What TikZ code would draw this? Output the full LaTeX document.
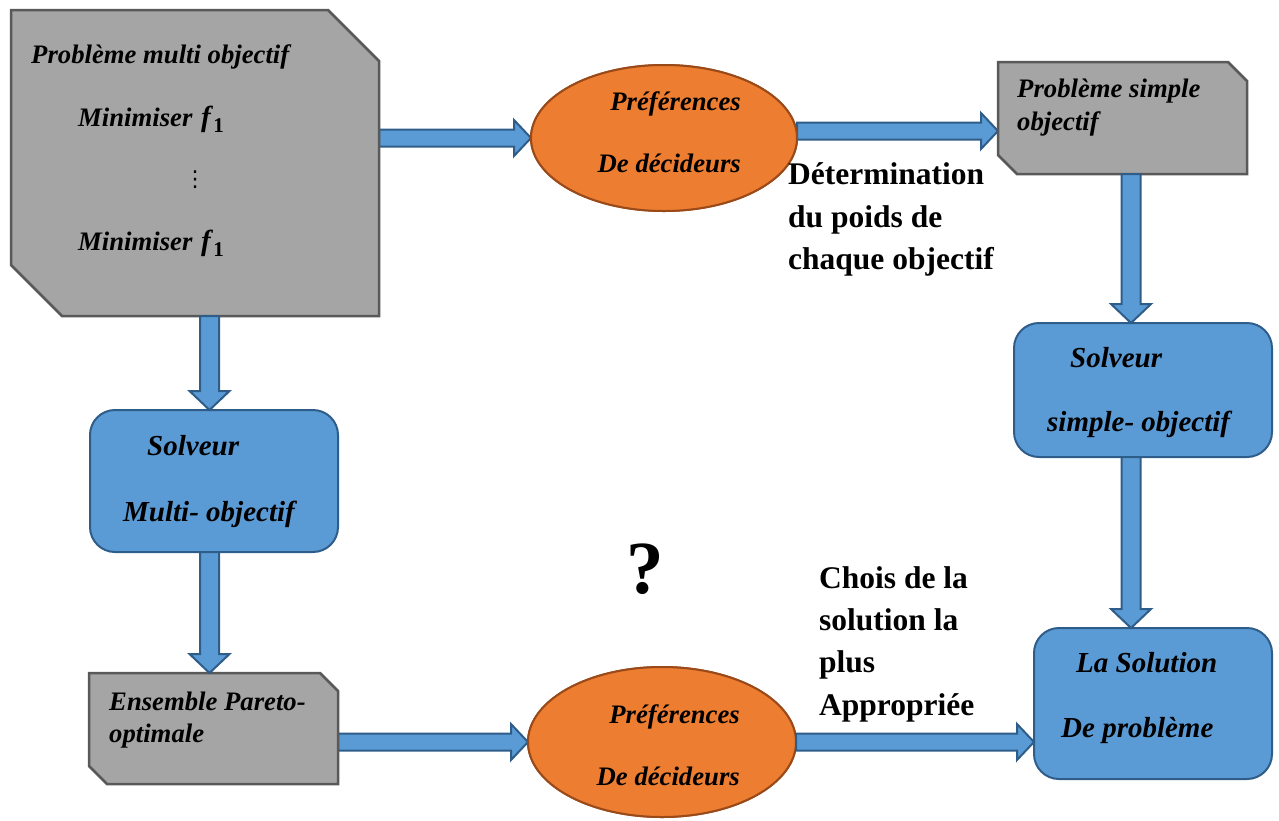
\documentclass[tikz,border=0pt]{standalone}
\usepackage{fontspec}
\setmainfont{Liberation Serif}
\newfontfamily\symbolfont{DejaVu Sans}
\usetikzlibrary{shapes.geometric,calc}

\definecolor{greyfill}{HTML}{A5A5A5}
\definecolor{greyline}{HTML}{595959}
\definecolor{bluefill}{HTML}{5B9BD5}
\definecolor{blueline}{HTML}{2F5D8A}
\definecolor{orangefill}{HTML}{ED7D31}
\definecolor{orangeline}{HTML}{9A4A18}

\newcommand\boxfont{\fontsize{26.7}{30}\selectfont\bfseries\itshape}
\newcommand\bigboxfont{\fontsize{29}{33}\selectfont\bfseries\itshape}
\newcommand\labelfont{\fontsize{31.5}{40}\selectfont\bfseries}
\newcommand\fone{\kern2pt{\fontsize{29}{29}\selectfont f}\kern2.5pt\raisebox{-6pt}{\fontsize{21}{21}\selectfont\upshape 1}}

\tikzset{
  frame/.style={rectangle, inner sep=0pt, outer sep=0pt},
  greyshape/.style={draw=greyline, fill=greyfill, line width=2.5pt, line join=miter},
  bluebox/.style={frame, draw=blueline, fill=bluefill, line width=2pt, rounded corners=25pt},
  orangebox/.style={ellipse, inner sep=0pt, outer sep=0pt, draw=orangeline, fill=orangefill, line width=2pt},
  blockarrow/.style={draw=blueline, fill=bluefill, line width=2pt, line join=miter},
  boxtext/.style={inner sep=0pt, anchor=base west, font=\boxfont},
  boxtextr/.style={inner sep=0pt, anchor=base east, font=\boxfont},
  bluetext/.style={inner sep=0pt, anchor=base west, font=\bigboxfont},
  labeltext/.style={inner sep=0pt, anchor=base west, font=\labelfont},
}

% grey outline with the north-east and south-west corners cut off
\newcommand\cutoutline[2]{%
  \draw[greyshape] (#1.north west) -- ($(#1.north east)+(-#2,0)$) -- ($(#1.north east)+(0,#2)$)
    -- (#1.south east) -- ($(#1.south west)+(#2,0)$) -- ($(#1.south west)+(0,-#2)$) -- cycle;}

% block arrow pointing right, from tail #1 to tip #2
\newcommand\rightblock[2]{%
  \draw[blockarrow] ($(#1)+(0,-8.5)$) -- ($(#2)+(-17,-8.5)$) -- ($(#2)+(-17,-18)$) -- (#2)
    -- ($(#2)+(-17,18)$) -- ($(#2)+(-17,8.5)$) -- ($(#1)+(0,8.5)$) -- cycle;}

% block arrow pointing down, from tail #1 to tip #2
\newcommand\downblock[2]{%
  \draw[blockarrow] ($(#1)+(-9.5,0)$) -- ($(#2)+(-9.5,-19)$) -- ($(#2)+(-20,-19)$) -- (#2)
    -- ($(#2)+(20,-19)$) -- ($(#2)+(9.5,-19)$) -- ($(#1)+(9.5,0)$) -- cycle;}

\begin{document}
\begin{tikzpicture}[x=1pt, y=-1pt]
\useasboundingbox (0,0) rectangle (1279,820);

% frames of the shapes
\node[frame, minimum width=368pt, minimum height=306pt] (multi) at (195,163) {};
\node[frame, minimum width=249pt, minimum height=112pt] (simple) at (1122.5,118) {};
\node[frame, minimum width=249pt, minimum height=111pt] (pareto) at (213.5,728.5) {};
\node[orangebox, minimum width=266pt, minimum height=146pt] (pref1) at (664,138) {};
\node[orangebox, minimum width=268pt, minimum height=150pt] (pref2) at (662,742) {};

% block arrows
\coordinate (a1) at (multi.east |- pref1.west);
\rightblock{a1}{pref1.west}
\coordinate (a2) at ($(pref1.east)+(0,-7)$);
\coordinate (a2h) at (simple.west |- a2);
\rightblock{a2}{a2h}
\coordinate (a3) at ($(simple.south)+(8.5,0)$);
\coordinate (a5) at ($(multi.south)+(14.5,0)$);
\coordinate (a7) at (pareto.east |- pref2.west);
\rightblock{a7}{pref2.west}

% shapes
\cutoutline{multi}{51}
\cutoutline{simple}{19}
\cutoutline{pareto}{18}
\node[bluebox, minimum width=248pt, minimum height=142pt] (msolver) at (214,481) {};
\node[bluebox, minimum width=258pt, minimum height=134pt] (ssolver) at (1143,390) {};
\node[bluebox, minimum width=238pt, minimum height=151pt] (solution) at (1153,703.5) {};
\node[orangebox, minimum width=266pt, minimum height=146pt] at (pref1) {};
\node[orangebox, minimum width=268pt, minimum height=150pt] at (pref2) {};

% vertical arrows and the last horizontal one
\coordinate (a3h) at (a3 |- ssolver.north);
\downblock{a3}{a3h}
\coordinate (a4) at (a3 |- ssolver.south);
\coordinate (a4h) at (a3 |- solution.north);
\downblock{a4}{a4h}
\coordinate (a5h) at (a5 |- msolver.north);
\downblock{a5}{a5h}
\coordinate (a6) at (a5 |- msolver.south);
\coordinate (a6h) at (a5 |- pareto.north);
\downblock{a6}{a6h}
\coordinate (a8h) at (solution.west |- pref2.east);
\rightblock{pref2.east}{a8h}

% texts inside the shapes
\node[boxtext] (t1) at (31,63) {Problème multi objectif};
\node[boxtext] (t2) at (78,126) {Minimiser \fone};
\node[inner sep=0pt, font=\symbolfont\fontsize{22}{22}\selectfont] (t3) at (195,180) {⋮};
\node[boxtext] (t4) at (78,250) {Minimiser \fone};

\node[boxtextr] (t5) at (741,110) {Préférences};
\node[boxtextr] (t6) at (741,172) {De décideurs};

\node[boxtext] (t7) at (1017,97) {Problème simple};
\node[boxtext] (t8) at (1017,130) {objectif};

\node[bluetext] (t9) at (1070,367) {Solveur};
\node[bluetext] (t10) at (1047,431) {simple- objectif};

\node[bluetext] (t11) at (147,455) {Solveur};
\node[bluetext] (t12) at (123,521) {Multi- objectif};

\node[boxtext] (t13) at (109,710) {Ensemble Pareto-};
\node[boxtext] (t14) at (109,742) {optimale};

\node[boxtextr] (t15) at (740,723) {Préférences};
\node[boxtextr] (t16) at (740,785) {De décideurs};

\node[bluetext] (t17) at (1076,672) {La Solution};
\node[bluetext] (t18) at (1061,737) {De problème};

% free labels
\node[labeltext] (l1) at (788,184) {Détermination};
\node[labeltext] (l2) at (788,227) {du poids de};
\node[labeltext] (l3) at (788,269) {chaque objectif};

\node[labeltext] (l4) at (819,588) {Chois de la};
\node[labeltext] (l5) at (819,630) {solution la};
\node[labeltext] (l6) at (819,672) {plus};
\node[labeltext] (l7) at (819,715) {Appropriée};

\node[inner sep=0pt, anchor=base west, font=\fontsize{75}{75}\selectfont\bfseries] (q) at (626,593) {?};
\end{tikzpicture}
\end{document}
